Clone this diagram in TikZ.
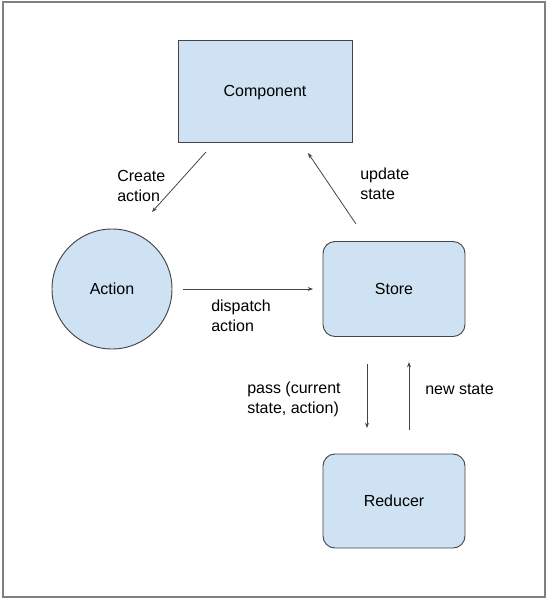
\documentclass[tikz,border=0pt]{standalone}
\usepackage{fontspec}
\setmainfont{Liberation Sans}
\usepackage{tikz}
\usetikzlibrary{positioning,arrows.meta,shapes}

\definecolor{boxblue}{HTML}{CFE2F3}
\definecolor{edgegray}{HTML}{444444}

\begin{document}
\begin{tikzpicture}[x=0.75pt, y=-0.75pt]
\tikzstyle{blk}=[draw=edgegray, fill=boxblue, line width=0.7pt, text depth=0pt, font=\fontsize{12}{14}\selectfont]
\tikzstyle{lbl}=[align=left, inner sep=0pt, font=\fontsize{12}{15}\selectfont]
\tikzstyle{arr}=[draw=edgegray, line width=0.6pt, -{Stealth[length=4pt, width=3pt]}]

\useasboundingbox (0,0) rectangle (549,600);
\draw[gray, line width=0.8pt] (3,2) rectangle (545,597);

\node[blk, minimum width=174*0.75pt, minimum height=102*0.75pt] (comp) at (265,91) {Component};
\node[blk, circle, minimum size=120*0.75pt] (act) at (112,289) {Action};
\node[blk, rounded corners=9pt, minimum width=142*0.75pt, minimum height=95*0.75pt] (store) at (394,289) {Store};
\node[blk, rounded corners=9pt, minimum width=142*0.75pt, minimum height=94*0.75pt] (red) at (394,501) {Reducer};

% arrow ends
\coordinate (c1) at (206,152);
\coordinate (c2) at (152,212);
\coordinate (u1) at (356,224);
\coordinate (u2) at (308,153);
\coordinate (d1) at (183,289);
\coordinate (d2) at (313,289);
\coordinate (p1) at (367,364);
\coordinate (p2) at (367,428);
\coordinate (n1) at (409,430);
\coordinate (n2) at (409,362);

\draw[arr] (c1) -- (c2);
\draw[arr] (u1) -- (u2);
\draw[arr] (d1) -- (d2);
\draw[arr] (p1) -- (p2);
\draw[arr] (n1) -- (n2);

\node[lbl, anchor=west] (lc) at (117,186) {Create\\action};
\node[lbl, anchor=west] (lu) at (360,184) {update\\state};
\node[lbl, anchor=west] (ld) at (211,316) {dispatch\\action};
\node[lbl, anchor=west] (lp) at (247,399) {pass (current\\state, action)};
\node[lbl, anchor=west] (ln) at (425,389) {new state};
\end{tikzpicture}
\end{document}
